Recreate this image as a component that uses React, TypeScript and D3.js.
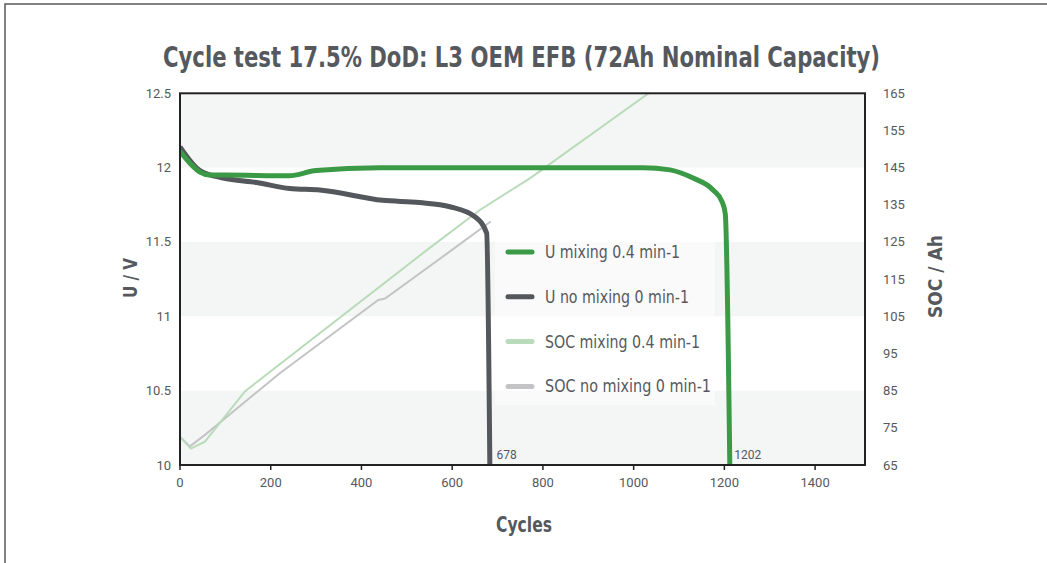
import React from "react";
import * as d3 from "d3";

const xTicks = [0, 200, 400, 600, 800, 1000, 1200, 1400];
const yLeftTicks = [10, 10.5, 11, 11.5, 12, 12.5];
const yRightTicks = [65, 75, 85, 95, 105, 115, 125, 135, 145, 155, 165];

const uMixing: [number, number][] = [
  [0, 12.11], [22, 12.03], [44, 11.97], [66, 11.95], [100, 11.95], [240, 11.945],
  [300, 11.98], [440, 12.0], [1020, 12.0], [1080, 11.985], [1131, 11.93],
  [1175, 11.85], [1195, 11.77], [1202, 11.69], [1212, 10.0],
];
const uNoMixing: [number, number][] = [
  [0, 12.14], [44, 11.98], [95, 11.93], [169, 11.9], [242, 11.86], [308, 11.85],
  [447, 11.78], [528, 11.765], [595, 11.737], [650, 11.67], [676, 11.56], [683, 10.0],
];
const socMixing: [number, number][] = [
  [0, 72.5], [24, 69.4], [55, 71.3], [143, 84.8], [544, 122.8], [661, 133.6],
  [772, 142.2], [1033, 165],
];
const socNoMixing: [number, number][] = [
  [0, 72.6], [22, 70.0], [55, 73.1], [220, 89.7], [437, 109.4], [452, 109.8],
  [599, 122.8], [685, 130.5],
];

const endLabels = [
  { cycle: 678, text: "678" },
  { cycle: 1202, text: "1202" },
];

const legendItems = [
  { label: "U mixing 0.4 min-1", color: "#3a9a46", len: 135 },
  { label: "U no mixing 0 min-1", color: "#54575b", len: 144 },
  { label: "SOC mixing 0.4 min-1", color: "#b9dbb9", len: 155 },
  { label: "SOC no mixing 0 min-1", color: "#c4c4c6", len: 166 },
];

const W = 1047;
const H = 563;
const PX0 = 180;
const PX1 = 865;
const PY0 = 93.3;
const PY1 = 465;

const condensed = "'Liberation Sans Narrow', 'DejaVu Sans Condensed', 'Roboto', sans-serif";
const regular = "Roboto, 'Liberation Sans', sans-serif";
const textColor = "#55595d";

export default function App() {
  const x = d3.scaleLinear().domain([0, 1510]).range([PX0, PX1]);
  const yL = d3.scaleLinear().domain([10, 12.5]).range([PY1, PY0]);
  const yR = d3.scaleLinear().domain([65, 165]).range([PY1, PY0]);

  const lineL = d3
    .line<[number, number]>()
    .x((d) => x(d[0]))
    .y((d) => yL(d[1]))
    .curve(d3.curveMonotoneX);
  const lineR = d3
    .line<[number, number]>()
    .x((d) => x(d[0]))
    .y((d) => yR(d[1]))
    .curve(d3.curveLinear);

  const bands = [] as { a: number; b: number }[];
  for (let i = 0; i < yLeftTicks.length - 1; i += 2) {
    bands.push({ a: yLeftTicks[i], b: yLeftTicks[i + 1] });
  }

  return (
    <svg
      width={W}
      height={H}
      style={{ position: "absolute", left: 0, top: 0, background: "#fff" }}
    >
      <defs>
        <clipPath id="plotClip">
          <rect x={PX0} y={PY0} width={PX1 - PX0} height={PY1 - PY0} />
        </clipPath>
      </defs>
      <path d={`M5,${H} L5,4 L${W},4`} fill="none" stroke="#5a5a5a" strokeWidth={1.5} />

      <text
        x={163}
        y={67}
        textLength={717}
        lengthAdjust="spacingAndGlyphs"
        fontFamily={condensed}
        fontWeight="bold"
        fontSize={28}
        fill={textColor}
      >
        Cycle test 17.5% DoD: L3 OEM EFB (72Ah Nominal Capacity)
      </text>

      {bands.map((b, i) => (
        <rect
          key={i}
          x={PX0}
          y={yL(b.b)}
          width={PX1 - PX0}
          height={yL(b.a) - yL(b.b)}
          fill="#f4f6f5"
        />
      ))}

      <rect x={495} y={232} width={220} height={173} fill="#ffffff" fillOpacity={0.45} />
      {legendItems.map((it, i) => {
        const yy = 252 + i * 44.8;
        return (
          <g key={it.label}>
            <line
              x1={508}
              x2={532}
              y1={yy}
              y2={yy}
              stroke={it.color}
              strokeWidth={5}
              strokeLinecap="round"
            />
            <text
              x={545}
              y={yy + 6}
              textLength={it.len}
              lengthAdjust="spacingAndGlyphs"
              fontFamily={condensed}
              fontSize={17}
              fill={textColor}
            >
              {it.label}
            </text>
          </g>
        );
      })}

      <g clipPath="url(#plotClip)">
        <path d={lineR(socNoMixing) || ""} fill="none" stroke="#c4c4c6" strokeWidth={2} />
        <path d={lineR(socMixing) || ""} fill="none" stroke="#b9dbb9" strokeWidth={2} />
        <path
          d={lineL(uNoMixing) || ""}
          fill="none"
          stroke="#54575b"
          strokeWidth={5}
          strokeLinejoin="round"
        />
        <path
          d={lineL(uMixing) || ""}
          fill="none"
          stroke="#3a9a46"
          strokeWidth={5}
          strokeLinejoin="round"
        />
      </g>

      {endLabels.map((l) => (
        <text
          key={l.text}
          x={x(l.cycle) + 9}
          y={459}
          fontFamily={regular}
          fontSize={12}
          fill={textColor}
        >
          {l.text}
        </text>
      ))}

      <rect
        x={PX0}
        y={PY0}
        width={PX1 - PX0}
        height={PY1 - PY0}
        fill="none"
        stroke="#222"
        strokeWidth={2}
      />

      {xTicks.map((t) => (
        <g key={t}>
          <line x1={x(t)} x2={x(t)} y1={PY1} y2={PY1 + 5} stroke="#222" strokeWidth={1.5} />
          <text
            x={x(t)}
            y={487}
            textAnchor="middle"
            fontFamily={regular}
            fontSize={13}
            fill={textColor}
          >
            {t}
          </text>
        </g>
      ))}

      {yLeftTicks.map((t) => (
        <text
          key={t}
          x={171}
          y={yL(t) + 4.5}
          textAnchor="end"
          fontFamily={regular}
          fontSize={13}
          fill={textColor}
        >
          {t}
        </text>
      ))}

      {yRightTicks.map((t) => (
        <text
          key={t}
          x={883}
          y={yR(t) + 4.5}
          textAnchor="start"
          fontFamily={regular}
          fontSize={13}
          fill={textColor}
        >
          {t}
        </text>
      ))}

      <text
        x={496}
        y={532}
        textLength={56}
        lengthAdjust="spacingAndGlyphs"
        fontFamily={condensed}
        fontWeight="bold"
        fontSize={21}
        fill={textColor}
      >
        Cycles
      </text>
      <text
        transform={`translate(137,298) rotate(-90)`}
        textLength={40}
        lengthAdjust="spacingAndGlyphs"
        fontFamily={condensed}
        fontWeight="bold"
        fontSize={20}
        fill={textColor}
      >
        U / V
      </text>
      <text
        transform={`translate(942,318) rotate(-90)`}
        textLength={83}
        lengthAdjust="spacingAndGlyphs"
        fontFamily={condensed}
        fontWeight="bold"
        fontSize={20}
        fill={textColor}
      >
        SOC / Ah
      </text>
    </svg>
  );
}
